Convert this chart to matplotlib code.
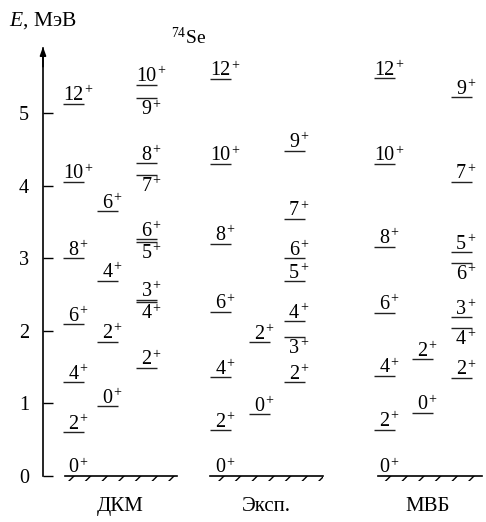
import numpy as np
import matplotlib.pyplot as plt
from matplotlib.patches import Rectangle

plt.rcParams['font.family'] = ['Liberation Serif', 'DejaVu Serif']
plt.rcParams['mathtext.fontset'] = 'custom'
plt.rcParams['mathtext.rm'] = 'Liberation Serif'
plt.rcParams['mathtext.it'] = 'Liberation Serif:italic'
plt.rcParams['hatch.linewidth'] = 1.0

# level energies (MeV), spins are J^+
# ДКМ
dkm_b1_spin = [0, 2, 4, 6, 8, 10, 12]
dkm_b1_E = [0.0, 0.60, 1.29, 2.09, 3.00, 4.05, 5.13]
dkm_b2_spin = [0, 2, 4, 6]
dkm_b2_E = [0.96, 1.85, 2.69, 3.65]
dkm_b3_spin = [2, 3, 4, 5, 6, 7, 8, 9, 10]
dkm_b3_E = [1.49, 2.43, 2.39, 3.22, 3.26, 4.15, 4.31, 5.20, 5.39]
dkm_b3_below = [4, 5, 7, 9]

# Эксп.
exp_b1_spin = [0, 2, 4, 6, 8, 10, 12]
exp_b1_E = [0.0, 0.63, 1.36, 2.26, 3.20, 4.30, 5.47]
exp_b2_spin = [0, 2]
exp_b2_E = [0.85, 1.84]
exp_b3_spin = [2, 3, 4, 5, 6, 7, 9]
exp_b3_E = [1.29, 1.91, 2.13, 2.68, 3.00, 3.54, 4.48]
exp_b3_below = [3]

# МВБ
mbb_b1_spin = [0, 2, 4, 6, 8, 10, 12]
mbb_b1_E = [0.0, 0.64, 1.38, 2.25, 3.16, 4.30, 5.48]
mbb_b2_spin = [0, 2]
mbb_b2_E = [0.87, 1.61]
mbb_b3_spin = [2, 3, 4, 5, 6, 7, 9]
mbb_b3_E = [1.35, 2.19, 2.04, 3.08, 2.93, 4.05, 5.22]
mbb_b3_below = [4, 6]

scheme_names = ['ДКМ', 'Эксп.', 'МВБ']
yticks = [0, 1, 2, 3, 4, 5]

fig = plt.figure(figsize=(4.86, 5.22), dpi=100)
ax = fig.add_axes([0, 0, 1, 1])
ax.set_xlim(0, 486)
ax.set_ylim(-0.634, 6.556)

FS = 14.5
HALF = 10.5  # half length of a level line (x units)


def level_label(x, E, spin, below=False):
    s = str(spin)
    half_w = len(s) * FS * 0.25
    dy = -11.5 if below else 2.5
    ax.annotate(s, (x, E), xytext=(0, dy), textcoords='offset points',
                ha='center', va='baseline', fontsize=FS)
    ax.annotate('+', (x, E), xytext=(half_w + 0.6, dy + 4.8), textcoords='offset points',
                ha='left', va='baseline', fontsize=10)


def draw_band(xc, spins, energies, below=()):
    for J, E in zip(spins, energies):
        if J == 0 and E == 0.0:
            # ground state: label only, the line is the ground
            level_label(xc, E, J)
            continue
        ax.plot([xc - HALF, xc + HALF], [E, E], color='#222222', lw=1.0,
                solid_capstyle='butt')
        level_label(xc, E, J, below=J in below)


def draw_ground(x0, x1):
    ax.plot([x0, x1], [0, 0], color='black', lw=1.2)
    ax.add_patch(Rectangle((x0, -0.075), x1 - x0, 0.075, fill=False,
                           hatch='//', edgecolor='black', lw=0))


# ДКМ
draw_ground(65, 177)
draw_band(73.5, dkm_b1_spin, dkm_b1_E)
draw_band(107.5, dkm_b2_spin, dkm_b2_E)
draw_band(146.5, dkm_b3_spin, dkm_b3_E, dkm_b3_below)

# Эксп.
draw_ground(210, 323)
draw_band(220.5, exp_b1_spin, exp_b1_E)
draw_band(259.5, exp_b2_spin, exp_b2_E)
draw_band(294, exp_b3_spin, exp_b3_E, exp_b3_below)

# МВБ
draw_ground(378, 482)
draw_band(384.5, mbb_b1_spin, mbb_b1_E)
draw_band(422, mbb_b2_spin, mbb_b2_E)
draw_band(461, mbb_b3_spin, mbb_b3_E, mbb_b3_below)

# names under the schemes
for name, xc in zip(scheme_names, [120, 266, 428]):
    ax.text(xc, -0.48, name, ha='center', va='baseline', fontsize=15)

# energy axis
for side in ['top', 'right', 'bottom']:
    ax.spines[side].set_visible(False)
ax.spines['left'].set_position(('data', 43))
ax.spines['left'].set_bounds(0, 5.9)
ax.spines['left'].set_linewidth(1.2)
ax.annotate('', xy=(43, 5.95), xytext=(43, 5.6),
            arrowprops=dict(arrowstyle='-|>,head_length=0.5,head_width=0.18',
                            color='black', lw=1.2))
ax.set_xticks([])
ax.set_yticks(yticks)
ax.set_yticklabels([str(t) for t in yticks])
ax.tick_params(axis='y', direction='in', length=7, width=1.0, pad=10, labelsize=14.5)

fig.text(9 / 486, 1 - 26 / 522, '$E$, МэВ', fontsize=15.5, ha='left', va='baseline')
fig.text(171 / 486, 1 - 44 / 522, '$^{74}$Se', fontsize=14, ha='left', va='baseline')

fig.savefig('out.png', dpi=100)
